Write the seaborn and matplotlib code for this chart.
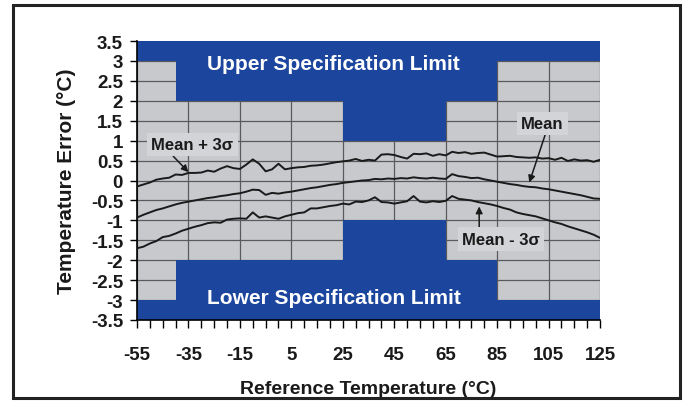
import numpy as np
import matplotlib
matplotlib.use("Agg")
import matplotlib.pyplot as plt
import seaborn as sns
import pandas as pd
from matplotlib.patches import Rectangle

# reference temperature, 2.5 degC steps
temps = np.arange(-55, 125.1, 2.5)

mean_err = [
    -0.93, -0.86, -0.80, -0.74, -0.70, -0.65, -0.60, -0.56, -0.53, -0.50,
    -0.47, -0.44, -0.42, -0.39, -0.37, -0.34, -0.32, -0.28, -0.23, -0.24,
    -0.36, -0.31, -0.33, -0.30, -0.28, -0.25, -0.22, -0.19, -0.17, -0.14,
    -0.11, -0.09, -0.06, -0.04, -0.02, 0.00, 0.01, 0.04, 0.03, 0.05,
    0.04, 0.06, 0.05, 0.08, 0.06, 0.05, 0.07, 0.05, 0.04, 0.16,
    0.11, 0.09, 0.06, 0.07, 0.03, 0.00, -0.03, -0.06, -0.09, -0.11,
    -0.14, -0.16, -0.17, -0.20, -0.22, -0.25, -0.28, -0.31, -0.34, -0.37,
    -0.41, -0.45, -0.46,
]
upper_err = [
    -0.15, -0.10, -0.05, 0.02, 0.05, 0.07, 0.15, 0.14, 0.19, 0.19,
    0.20, 0.25, 0.22, 0.30, 0.36, 0.31, 0.29, 0.40, 0.53, 0.42,
    0.23, 0.28, 0.42, 0.28, 0.31, 0.33, 0.34, 0.37, 0.38, 0.40,
    0.43, 0.46, 0.48, 0.50, 0.54, 0.49, 0.52, 0.50, 0.65, 0.66,
    0.64, 0.59, 0.55, 0.67, 0.66, 0.68, 0.62, 0.66, 0.63, 0.72,
    0.69, 0.71, 0.67, 0.69, 0.70, 0.65, 0.60, 0.61, 0.62, 0.59,
    0.58, 0.57, 0.58, 0.55, 0.56, 0.52, 0.57, 0.49, 0.53, 0.50,
    0.51, 0.47, 0.52,
]
lower_err = [
    -1.70, -1.66, -1.58, -1.52, -1.42, -1.39, -1.33, -1.26, -1.21, -1.16,
    -1.12, -1.07, -1.05, -1.06, -0.98, -0.96, -0.95, -0.96, -0.80, -0.93,
    -0.90, -0.93, -0.96, -0.90, -0.86, -0.82, -0.80, -0.70, -0.70, -0.67,
    -0.64, -0.62, -0.58, -0.60, -0.53, -0.54, -0.50, -0.42, -0.54, -0.55,
    -0.58, -0.55, -0.52, -0.39, -0.53, -0.55, -0.52, -0.54, -0.51, -0.39,
    -0.46, -0.48, -0.50, -0.54, -0.57, -0.60, -0.64, -0.69, -0.73, -0.80,
    -0.84, -0.87, -0.90, -0.95, -1.00, -1.05, -1.09, -1.15, -1.20, -1.25,
    -1.30, -1.36, -1.44,
]

# specification limit steps
spec_x = [-55, -40, 25, 65, 85, 125]
spec_upper = [3, 2, 1, 2, 3, 3]
spec_lower = [-3, -2, -1, -2, -3, -3]

x_ticks = list(range(-55, 126, 20))
y_ticks = [v / 2 for v in range(-7, 8)]

BLUE = "#1c459e"
GRAY = "#c8c9cd"
BOX = "#d3d4d8"
INK = "#1a1a1a"

df = pd.DataFrame({"temp": temps, "Mean": mean_err,
                   "Mean + 3s": upper_err, "Mean - 3s": lower_err})
long = df.melt(id_vars="temp", var_name="series", value_name="err")

sns.set_theme(style="white")
plt.rcParams["font.family"] = ["Liberation Sans", "DejaVu Sans"]
plt.rcParams["axes.unicode_minus"] = False
plt.rcParams["text.color"] = INK
plt.rcParams["axes.labelcolor"] = INK
plt.rcParams["xtick.color"] = INK
plt.rcParams["ytick.color"] = INK

fig = plt.figure(figsize=(6.84, 4.02), dpi=100)
ax = fig.add_axes([0.2003, 0.2015, 0.677, 0.694])
ax.set_facecolor(GRAY)

ax.fill_between(spec_x, spec_upper, 3.5, step="post", color=BLUE, lw=0, zorder=1)
ax.fill_between(spec_x, spec_lower, -3.5, step="post", color=BLUE, lw=0, zorder=1)

sns.lineplot(data=long, x="temp", y="err", units="series", estimator=None,
             color=INK, lw=1.4, ax=ax, zorder=3)

ax.set_xlim(-55, 125)
ax.set_ylim(-3.5, 3.5)
ax.set_xticks(x_ticks)
ax.set_xticks(list(range(-55, 126, 5)), minor=True)
ax.set_yticks(y_ticks)
ax.set_yticklabels([f"{v:g}" for v in y_ticks])
ax.grid(True, which="major", color="#5a5a5e", lw=0.9)
ax.set_axisbelow(True)

for s in ["top", "right"]:
    ax.spines[s].set_visible(False)
for s in ["left", "bottom"]:
    ax.spines[s].set_color("black")
    ax.spines[s].set_linewidth(1.2)

ax.tick_params(axis="x", which="both", direction="out", length=6, width=1,
               color="black", bottom=True, pad=13, labelsize=13.5)
ax.tick_params(axis="y", which="major", direction="out", length=5, width=1,
               color="black", left=True, pad=5, labelsize=13.5)
for lbl in ax.get_xticklabels() + ax.get_yticklabels():
    lbl.set_fontweight("bold")

ax.set_xlabel("Reference Temperature (°C)", fontsize=14, fontweight="bold",
              labelpad=12)
ax.set_ylabel("Temperature Error (°C)", fontsize=15, fontweight="bold",
              labelpad=11)

ax.text(21.5, 2.93, "Upper Specification Limit", color="white", fontsize=15,
        fontweight="bold", ha="center", va="center", zorder=4)
ax.text(21.5, -2.93, "Lower Specification Limit", color="white", fontsize=15,
        fontweight="bold", ha="center", va="center", zorder=4)

box = dict(boxstyle="square,pad=0.25", fc=BOX, ec="none")
arrow = dict(arrowstyle="-|>", color=INK, lw=1.1, mutation_scale=10,
             shrinkA=0, shrinkB=0)
ax.annotate("Mean + 3σ", xy=(-35, 0.21), xytext=(-33.5, 0.9),
            fontsize=12, fontweight="bold", ha="center", va="center",
            bbox=box, zorder=5, arrowprops=dict(arrow, relpos=(0.22, 0.0)))
ax.annotate("Mean", xy=(97.5, -0.05), xytext=(102.5, 1.43),
            fontsize=12, fontweight="bold", ha="center", va="center",
            bbox=box, zorder=5, arrowprops=dict(arrow, relpos=(0.6, 0.0)))
ax.annotate("Mean - 3σ", xy=(78, -0.65), xytext=(86.5, -1.47),
            fontsize=12, fontweight="bold", ha="center", va="center",
            bbox=box, zorder=5, arrowprops=dict(arrow, relpos=(0.22, 1.0)))

fig.patches.append(Rectangle((13 / 684, 3 / 402), 667 / 684, 393 / 402,
                             transform=fig.transFigure, fill=False,
                             ec="#222222", lw=2.2))

fig.savefig("out.png", dpi=100)
